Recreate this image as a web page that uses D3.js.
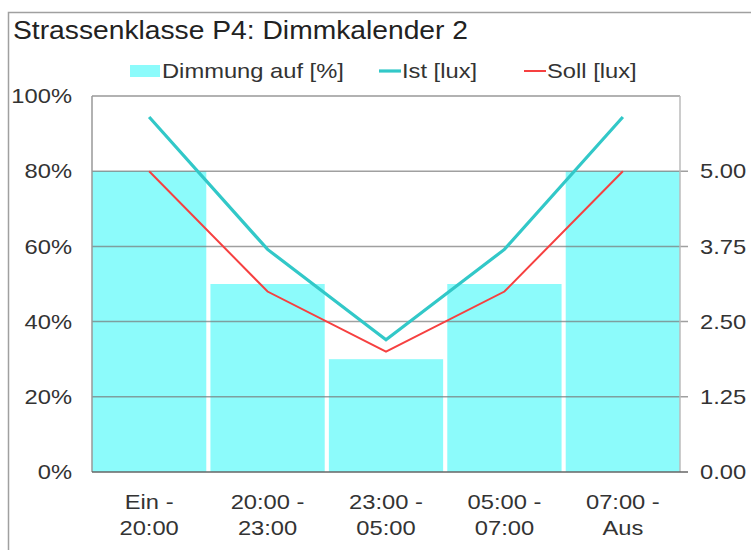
<!DOCTYPE html>
<html>
<head>
<meta charset="utf-8">
<script src="https://cdn.jsdelivr.net/npm/d3@7"></script>
<style>
  body { margin: 0; background: #fff; }
  svg { font-family: "Liberation Sans", Arial, sans-serif; }
</style>
</head>
<body>
<div id="chart"></div>
<script>
const categories = [["Ein -", "20:00"], ["20:00 -", "23:00"], ["23:00 -", "05:00"], ["05:00 -", "07:00"], ["07:00 -", "Aus"]];
const dimmung = [80, 50, 30, 50, 80];
const ist = [5.9, 3.7, 2.2, 3.7, 5.9];
const soll = [5.0, 3.0, 2.0, 3.0, 5.0];
const pctTicks = [0, 20, 40, 60, 80, 100];
const luxTicks = [0, 1.25, 2.5, 3.75, 5.0];

const W = 751, H = 550;
const margin = { top: 96, right: 71, bottom: 78, left: 92 };
const width = W - margin.left - margin.right;
const height = H - margin.top - margin.bottom;
const sx = 1.13; // the text in the picture is a bit wide
const fs = 21;

const svg = d3.select("#chart").append("svg")
  .attr("width", W).attr("height", H);

// put a text at (x,y), stretched wide from its anchor
function wideText(sel, x, y, str, size) {
  return sel.append("text")
    .attr("transform", `translate(${x},${y}) scale(${sx},1)`)
    .attr("font-size", size || fs)
    .attr("fill", "#333")
    .text(str);
}

// outer frame (clipped by the picture)
svg.append("rect")
  .attr("x", 8.5).attr("y", 12.5)
  .attr("width", W).attr("height", H)
  .attr("fill", "none").attr("stroke", "#a0a0a0").attr("stroke-width", 1.5);

wideText(svg, 13, 39, "Strassenklasse P4: Dimmkalender 2", 25).attr("fill", "#222");

const g = svg.append("g").attr("transform", `translate(${margin.left},${margin.top})`);

const idx = categories.map((d, i) => i);
const x = d3.scaleBand().domain(idx).range([0, width]).paddingInner(0.035).paddingOuter(0);
const y = d3.scaleLinear().domain([0, 100]).range([height, 0]);
const yLux = d3.scaleLinear().domain([0, 6.25]).range([height, 0]);

// bars
g.selectAll("rect.bar")
  .data(dimmung)
  .join("rect")
  .attr("class", "bar")
  .attr("x", (d, i) => x(i))
  .attr("y", d => y(d))
  .attr("width", x.bandwidth())
  .attr("height", d => height - y(d))
  .attr("fill", "#8cfbfb");

// gridlines
g.selectAll("line.grid")
  .data(pctTicks.filter(t => t > 0 && t < 100))
  .join("line")
  .attr("class", "grid")
  .attr("x1", 0).attr("x2", width + 8)
  .attr("y1", d => y(d)).attr("y2", d => y(d))
  .attr("stroke", "#777").attr("stroke-opacity", 0.7).attr("stroke-width", 1.5);

// plot frame
g.append("line").attr("x1", 0).attr("x2", width).attr("y1", 0).attr("y2", 0)
  .attr("stroke", "#999").attr("stroke-width", 1.5);
g.append("line").attr("x1", 0).attr("x2", 0).attr("y1", 0).attr("y2", height)
  .attr("stroke", "#999").attr("stroke-width", 1.5);
g.append("line").attr("x1", width).attr("x2", width).attr("y1", 0).attr("y2", height)
  .attr("stroke", "#bbb").attr("stroke-width", 1.5);
g.append("line").attr("x1", 0).attr("x2", width + 8).attr("y1", height).attr("y2", height)
  .attr("stroke", "#666").attr("stroke-width", 1.5);

// left axis
const yAxis = g.append("g")
  .call(d3.axisLeft(y).tickValues(pctTicks).tickFormat(d => d + "%").tickSize(0));
yAxis.select(".domain").remove();
yAxis.selectAll("text")
  .attr("x", 0)
  .attr("transform", `translate(-20,0) scale(${sx},1)`)
  .attr("font-size", fs).attr("fill", "#333")
  .attr("font-family", "Liberation Sans, Arial, sans-serif");

// right axis
const yRAxis = g.append("g").attr("transform", `translate(${width},0)`)
  .call(d3.axisRight(yLux).tickValues(luxTicks).tickFormat(d3.format(".2f")).tickSize(0));
yRAxis.select(".domain").remove();
yRAxis.selectAll("text")
  .attr("x", 0)
  .attr("transform", `translate(20,0) scale(${sx},1)`)
  .attr("font-size", fs).attr("fill", "#333")
  .attr("font-family", "Liberation Sans, Arial, sans-serif");

// x axis labels
const xAxis = g.append("g").attr("transform", `translate(0,${height})`)
  .call(d3.axisBottom(x).tickSize(0).tickFormat(""));
xAxis.select(".domain").remove();
xAxis.selectAll(".tick").each(function (i) {
  const t = d3.select(this).append("text")
    .attr("fill", "#333").attr("font-size", fs).attr("text-anchor", "middle")
    .attr("transform", `scale(${sx},1)`)
    .attr("font-family", "Liberation Sans, Arial, sans-serif");
  categories[i].forEach((s, k) => {
    t.append("tspan").attr("x", 0).attr("y", 37 + k * 26).text(s);
  });
});

// lines
const line = d3.line().x((d, i) => x(i) + x.bandwidth() / 2).y(d => yLux(d));
g.append("path").datum(ist).attr("d", line)
  .attr("fill", "none").attr("stroke", "#32c8c8").attr("stroke-width", 3.2);
g.append("path").datum(soll).attr("d", line)
  .attr("fill", "none").attr("stroke", "#f64040").attr("stroke-width", 2);

// legend
const leg = svg.append("g");
leg.append("rect").attr("x", 130).attr("y", 65).attr("width", 30).attr("height", 12).attr("fill", "#8cfbfb");
wideText(leg, 162, 78, "Dimmung auf [%]");
leg.append("line").attr("x1", 379).attr("x2", 401).attr("y1", 71).attr("y2", 71)
  .attr("stroke", "#32c8c8").attr("stroke-width", 3.2);
wideText(leg, 402, 78, "Ist [lux]");
leg.append("line").attr("x1", 524).attr("x2", 546).attr("y1", 71).attr("y2", 71)
  .attr("stroke", "#f64040").attr("stroke-width", 2);
wideText(leg, 547, 78, "Soll [lux]");
</script>
</body>
</html>
